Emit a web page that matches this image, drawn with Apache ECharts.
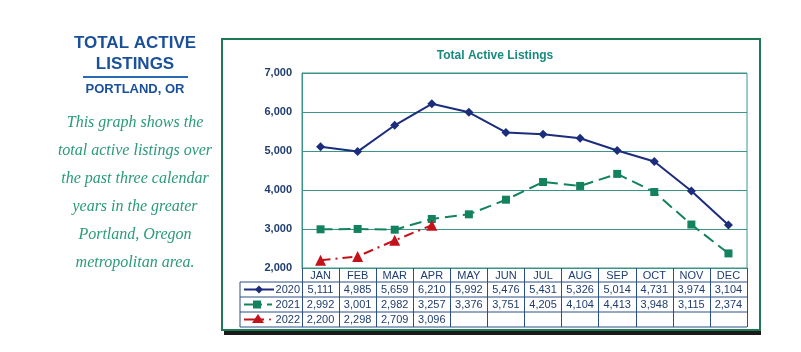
<!DOCTYPE html>
<html>
<head>
<meta charset="utf-8">
<script src="https://cdn.jsdelivr.net/npm/echarts@6/dist/echarts.min.js"></script>
<style>
  body { margin: 0; background: #fff; }
  #chart { width: 801px; height: 352px; }
</style>
</head>
<body>
<div id="chart"></div>
<script>
  const months = ['JAN', 'FEB', 'MAR', 'APR', 'MAY', 'JUN', 'JUL', 'AUG', 'SEP', 'OCT', 'NOV', 'DEC'];
  const years = ['2020', '2021', '2022'];
  const listings2020 = [5111, 4985, 5659, 6210, 5992, 5476, 5431, 5326, 5014, 4731, 3974, 3104];
  const listings2021 = [2992, 3001, 2982, 3257, 3376, 3751, 4205, 4104, 4413, 3948, 3115, 2374];
  const listings2022 = [2200, 2298, 2709, 3096];
  const yMin = 2000, yMax = 7000, yStep = 1000;
  const blurb = [
    'This graph shows the',
    'total active listings over',
    'the past three calendar',
    'years in the greater',
    'Portland, Oregon',
    'metropolitan area.'
  ];

  const navy = '#1b2d7c', green = '#13825f', red = '#c4121b';
  const tableBlue = '#2b4f86', teal = '#3a9488';
  const fmt = v => v.toLocaleString('en-US');

  let myChart = echarts.init(document.getElementById('chart'));
  myChart.setOption({
    backgroundColor: '#fff',
    animation: false,
    title: {
      text: 'Total Active Listings',
      left: 490,
      top: 45,
      textAlign: 'center',
      textStyle: { color: '#1a8a80', fontSize: 12, fontWeight: 'bold', fontFamily: 'Liberation Sans' }
    },
    grid: {
      left: 302, top: 73, right: 54, bottom: 84,
      show: true, borderColor: teal, borderWidth: 1, backgroundColor: 'transparent'
    },
    xAxis: {
      type: 'category',
      data: months,
      boundaryGap: true,
      axisLine: { lineStyle: { color: teal } },
      axisTick: { show: true, interval: 0, length: 59, lineStyle: { color: tableBlue } },
      axisLabel: { margin: 2, interval: 0, color: '#1f3d6e', fontSize: 11, fontFamily: 'Liberation Sans' }
    },
    yAxis: {
      type: 'value',
      min: yMin, max: yMax, interval: yStep,
      axisLine: { show: true, lineStyle: { color: teal } },
      splitLine: { lineStyle: { color: teal } },
      axisLabel: {
        margin: 10, color: '#1f3d6e', fontSize: 11, fontWeight: 'bold', fontFamily: 'Liberation Sans',
        formatter: v => fmt(v)
      }
    },
    series: [
      {
        name: years[0], type: 'line', data: listings2020, color: navy,
        symbol: 'diamond', symbolSize: 9, lineStyle: { width: 2 }
      },
      {
        name: years[1], type: 'line', data: listings2021, color: green,
        symbol: 'rect', symbolSize: 8, lineStyle: { width: 2, type: [12, 6] }
      },
      {
        name: years[2], type: 'line', data: listings2022, color: red,
        symbol: 'triangle', symbolSize: 11, lineStyle: { width: 2, type: [10, 5, 2, 5] }
      }
    ]
  });

  // table + side text drawn as graphic elements
  const rowsY = [289.5, 304.5, 319.5];
  const rowsData = [listings2020, listings2021, listings2022];
  const graphics = [
    { type: 'rect', z: -10, shape: { x: 224, y: 331, width: 537, height: 4 }, style: { fill: '#1a1a1a' } },
    { type: 'rect', z: -9, shape: { x: 222, y: 39, width: 538, height: 291 }, style: { fill: '#fff', stroke: '#1d7a55', lineWidth: 2 } },
    { type: 'text', style: { text: 'TOTAL ACTIVE', x: 135, y: 43, align: 'center', verticalAlign: 'middle', fill: '#1a4f9a', font: 'bold 17px "Liberation Sans"' } },
    { type: 'text', style: { text: 'LISTINGS', x: 135, y: 64, align: 'center', verticalAlign: 'middle', fill: '#1a4f9a', font: 'bold 17px "Liberation Sans"' } },
    { type: 'line', shape: { x1: 83, y1: 77, x2: 188, y2: 77 }, style: { stroke: '#2a6ab0', lineWidth: 2 } },
    { type: 'text', style: { text: 'PORTLAND, OR', x: 135, y: 89, align: 'center', verticalAlign: 'middle', fill: '#1a4f9a', font: 'bold 13px "Liberation Sans"' } }
  ];
  blurb.forEach((t, i) => {
    graphics.push({ type: 'text', style: { text: t, x: 135, y: 123 + i * 27.9, align: 'center', verticalAlign: 'middle', fill: '#2a9a7a', font: 'italic 16px "Liberation Serif"' } });
  });
  [282, 297, 312, 327].forEach(y => {
    graphics.push({ type: 'line', shape: { x1: 240, y1: y, x2: 747, y2: y }, style: { stroke: tableBlue, lineWidth: 1 } });
  });
  graphics.push({ type: 'line', shape: { x1: 240, y1: 282, x2: 240, y2: 327 }, style: { stroke: tableBlue, lineWidth: 1 } });

  rowsData.forEach((arr, r) => {
    arr.forEach((v, i) => {
      const x = myChart.convertToPixel({ xAxisIndex: 0 }, months[i]);
      graphics.push({ type: 'text', style: { text: fmt(v), x: x, y: rowsY[r], align: 'center', verticalAlign: 'middle', fill: '#1f3d6e', font: '11px "Liberation Sans"' } });
    });
    graphics.push({ type: 'text', style: { text: years[r], x: 300, y: rowsY[r], align: 'right', verticalAlign: 'middle', fill: '#1f3d6e', font: '11px "Liberation Sans"' } });
  });

  // legend keys in the table
  graphics.push(
    { type: 'line', shape: { x1: 244, y1: 289.5, x2: 274, y2: 289.5 }, style: { stroke: navy, lineWidth: 2 } },
    { type: 'polygon', shape: { points: [[259, 285.5], [263, 289.5], [259, 293.5], [255, 289.5]] }, style: { fill: navy } },
    { type: 'line', shape: { x1: 244, y1: 304.5, x2: 262, y2: 304.5 }, style: { stroke: green, lineWidth: 2 } },
    { type: 'rect', shape: { x: 253, y: 300.5, width: 8, height: 8 }, style: { fill: green } },
    { type: 'line', shape: { x1: 267, y1: 304.5, x2: 272, y2: 304.5 }, style: { stroke: green, lineWidth: 2 } },
    { type: 'line', shape: { x1: 244, y1: 319.5, x2: 264, y2: 319.5 }, style: { stroke: red, lineWidth: 2 } },
    { type: 'polygon', shape: { points: [[258, 314], [264, 323], [252, 323]] }, style: { fill: red } },
    { type: 'circle', shape: { cx: 270, cy: 319.5, r: 1 }, style: { fill: red } }
  );

  myChart.setOption({ graphic: graphics });
</script>
</body>
</html>
